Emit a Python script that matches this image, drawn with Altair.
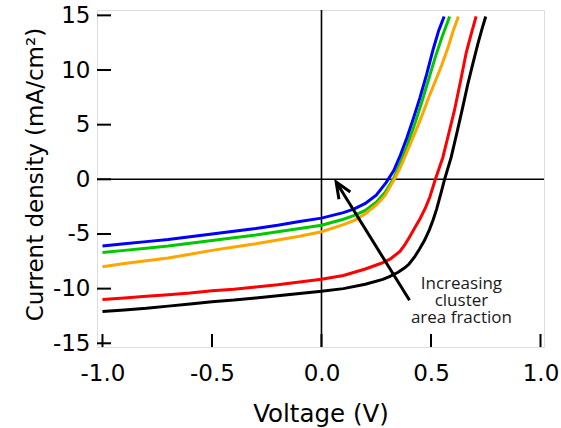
import altair as alt
import pandas as pd

# ---- data ----
series_names = ["black", "red", "green", "blue", "orange"]
series_colors = ["#000000", "#ff0000", "#00c800", "#0000ff", "#ffa500"]

v_blue = [-1.0, -0.9, -0.8, -0.7, -0.6, -0.5, -0.4, -0.3, -0.2, -0.1, 0.0, 0.1, 0.15, 0.2, 0.25, 0.295, 0.33, 0.36, 0.39, 0.42, 0.45, 0.48, 0.51, 0.535, 0.56]
j_blue = [-6.1, -5.9, -5.7, -5.5, -5.25, -5.0, -4.75, -4.5, -4.2, -3.85, -3.55, -3.05, -2.7, -2.2, -1.45, -0.3, 0.8, 2.2, 3.8, 5.6, 7.5, 9.6, 11.9, 13.6, 14.9]

v_green = [-1.0, -0.9, -0.8, -0.7, -0.6, -0.5, -0.4, -0.3, -0.2, -0.1, 0.0, 0.1, 0.15, 0.2, 0.25, 0.29, 0.33, 0.36, 0.39, 0.43, 0.46, 0.49, 0.52, 0.55, 0.585]
j_green = [-6.7, -6.5, -6.3, -6.1, -5.85, -5.6, -5.35, -5.1, -4.8, -4.5, -4.2, -3.65, -3.3, -2.85, -2.1, -1.2, 0.1, 1.5, 3.0, 5.3, 7.2, 9.2, 11.2, 13.0, 14.9]

v_orange = [-1.0, -0.9, -0.8, -0.7, -0.6, -0.5, -0.4, -0.3, -0.2, -0.1, 0.0, 0.1, 0.15, 0.2, 0.25, 0.29, 0.335, 0.36, 0.39, 0.432, 0.46, 0.49, 0.52, 0.55, 0.58, 0.60, 0.625]
j_orange = [-8.0, -7.7, -7.45, -7.2, -6.85, -6.5, -6.2, -5.9, -5.55, -5.2, -4.8, -4.15, -3.75, -3.15, -2.35, -1.5, 0.1, 1.1, 2.5, 4.5, 5.9, 7.5, 9.0, 10.5, 12.2, 13.5, 14.9]

v_red = [-1.0, -0.9, -0.8, -0.7, -0.6, -0.5, -0.4, -0.3, -0.2, -0.1, 0.0, 0.1, 0.2, 0.27, 0.313, 0.358, 0.38, 0.404, 0.43, 0.45, 0.475, 0.495, 0.52, 0.554, 0.58, 0.607, 0.635, 0.661, 0.685, 0.706]
j_red = [-11.0, -10.85, -10.7, -10.55, -10.4, -10.2, -10.05, -9.85, -9.65, -9.4, -9.15, -8.8, -8.2, -7.7, -7.3, -6.6, -6.0, -5.2, -4.3, -3.6, -2.6, -1.6, 0.0, 2.0, 4.1, 6.3, 9.0, 11.6, 13.4, 14.9]

v_black = [-1.0, -0.9, -0.8, -0.7, -0.6, -0.5, -0.4, -0.3, -0.2, -0.1, 0.0, 0.1, 0.2, 0.28, 0.31, 0.35, 0.38, 0.40, 0.425, 0.447, 0.47, 0.493, 0.51, 0.526, 0.545, 0.562, 0.592, 0.62, 0.645, 0.668, 0.69, 0.714, 0.735, 0.75]
j_black = [-12.1, -11.95, -11.8, -11.6, -11.4, -11.2, -11.05, -10.85, -10.65, -10.45, -10.25, -10.0, -9.6, -9.15, -8.9, -8.5, -8.1, -7.75, -7.1, -6.4, -5.6, -4.6, -3.7, -2.7, -1.3, 0.0, 2.0, 4.4, 6.6, 8.7, 10.5, 12.4, 13.9, 14.9]

x_ticks = [-1.0, -0.5, 0.0, 0.5, 1.0]
y_ticks = [-15, -10, -5, 0, 5, 10, 15]
x_domain = [-1.025, 1.016]
y_domain = [-15.34, 15.49]

arrow_tail = [0.402, -11.07]
arrow_tip = [0.067, -0.25]
note_lines = ["Increasing", "cluster", "area fraction"]
note_x = 0.639
note_y = -10.07

# ---- build tables ----
curves = {
    "black": (v_black, j_black),
    "red": (v_red, j_red),
    "green": (v_green, j_green),
    "blue": (v_blue, j_blue),
    "orange": (v_orange, j_orange),
}
rows = []
for order, name in enumerate(series_names):
    vs, js = curves[name]
    for i, (v, j) in enumerate(zip(vs, js)):
        rows.append({"series": name, "V": v, "J": j, "ord": order, "i": i})
df = pd.DataFrame(rows)

W, H = 447, 337
xs = alt.Scale(domain=x_domain, nice=False, zero=False)
ys = alt.Scale(domain=y_domain, nice=False, zero=False)

base = alt.Chart(df)

x_axis = alt.Axis(values=x_ticks, labelExpr="replace(format(datum.value, '.1f'), '\u2212', '-')",
                  ticks=False, tickSize=0, domain=False, grid=False,
                  labelFont="DejaVu Sans", labelFontSize=23, labelColor="#000", labelPadding=15,
                  title="Voltage (V)", titleFont="DejaVu Sans", titleFontSize=24.5, titleFontWeight="normal",
                  titleColor="#000", titleY=74, titleBaseline="alphabetic")
y_axis = alt.Axis(values=y_ticks, labelExpr="replace(format(datum.value, 'd'), '\u2212', '-')",
                  ticks=False, tickSize=0, domain=False, grid=False,
                  labelFont="DejaVu Sans", labelFontSize=23, labelColor="#000", labelPadding=7,
                  title="Current density (mA/cm²)", titleFont="DejaVu Sans", titleFontSize=23,
                  titleFontWeight="normal", titleColor="#000", titleX=-55, titleY=164,
                  titleBaseline="alphabetic")

lines = base.mark_line(strokeWidth=3, clip=True).encode(
    x=alt.X("V:Q", scale=xs, axis=x_axis),
    y=alt.Y("J:Q", scale=ys, axis=y_axis),
    color=alt.Color("series:N", scale=alt.Scale(domain=series_names, range=series_colors), legend=None),
    detail="series:N",
    order="i:Q",
)

zero_df = pd.DataFrame({"z": [0]})
vzero = alt.Chart(zero_df).mark_rule(color="black", strokeWidth=1.6).encode(
    x=alt.X("z:Q", scale=xs), y=alt.value(0), y2=alt.value(H))
hzero = alt.Chart(zero_df).mark_rule(color="black", strokeWidth=1.6).encode(
    y=alt.Y("z:Q", scale=ys), x=alt.value(0), x2=alt.value(W))

xt = alt.Chart(pd.DataFrame({"t": x_ticks})).mark_rule(color="black", strokeWidth=2).encode(
    x=alt.X("t:Q", scale=xs), y=alt.value(H), y2=alt.value(H - 13))
yt = alt.Chart(pd.DataFrame({"t": y_ticks})).mark_rule(color="black", strokeWidth=2).encode(
    y=alt.Y("t:Q", scale=ys), x=alt.value(0), x2=alt.value(14))

arrow_df = pd.DataFrame({"x": [arrow_tail[0]], "y": [arrow_tail[1]],
                         "x2": [arrow_tip[0]], "y2": [arrow_tip[1]]})
arrow_line = alt.Chart(arrow_df).mark_rule(color="black", strokeWidth=3).encode(
    x=alt.X("x:Q", scale=xs), y=alt.Y("y:Q", scale=ys), x2="x2:Q", y2="y2:Q")
arrow_head = alt.Chart(arrow_df).mark_point(
    shape="M-0.42,1L0,0L0.42,1", size=1024, filled=False, stroke="black", strokeWidth=3,
    angle=328, opacity=1, strokeJoin="miter").encode(
    x=alt.X("x2:Q", scale=xs), y=alt.Y("y2:Q", scale=ys))

note_df = pd.DataFrame({"txt": ["\n".join(note_lines)], "x": [note_x], "y": [note_y]})
note = alt.Chart(note_df).mark_text(font="Open Sans", fontSize=17, color="#1a1a1a",
                                    align="center", baseline="alphabetic",
                                    lineBreak="\n", lineHeight=16.7).encode(
    x=alt.X("x:Q", scale=xs), y=alt.Y("y:Q", scale=ys), text="txt:N")

chart = alt.layer(vzero, hzero, lines, xt, yt, arrow_line, arrow_head, note).properties(
    width=W, height=H,
    autosize=alt.AutoSizeParams(type="none"),
    padding={"left": 97, "top": 10, "right": 17, "bottom": 81},
).configure_view(stroke="black", strokeWidth=2).configure(background="white")

chart.save("out.html", embed_options={"renderer": "svg", "actions": False})
